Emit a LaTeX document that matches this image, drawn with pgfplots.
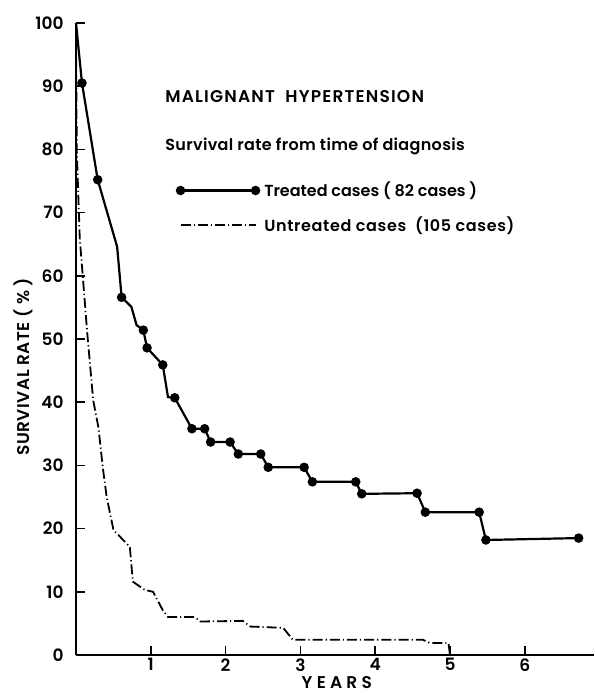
\documentclass[border=0pt]{standalone}
\usepackage{fontspec}
\setmainfont{Poppins}[BoldFont={Poppins SemiBold}]
\usepackage{pgfplots}
\pgfplotsset{compat=1.18}
\begin{document}
\begin{tikzpicture}
\path[use as bounding box] (-38pt,-19pt) rectangle (259.5pt,327.5pt);
\begin{axis}[
  at={(0pt,0pt)}, anchor=south west,
  x=37.4pt, y=3.16pt,
  xmin=0, xmax=6.92, ymin=0, ymax=100,
  axis x line*=bottom, axis y line*=left,
  axis line style={line width=1pt, black},
  xtick={1,2,3,4,5,6}, ytick={0,10,20,30,40,50,60,70,80,90,100},
  tick style={line width=0.8pt, black},
  major tick length=4.5pt,
  tick align=inside,
  /pgf/number format/assume math mode=true,
  tick label style={font=\fontsize{8.5}{10}\selectfont\bfseries},
  xticklabel style={anchor=north, inner sep=0pt, yshift=-1.5pt},
  yticklabel style={anchor=east, inner sep=0pt, xshift=-6pt},
  xlabel={\addfontfeature{LetterSpace=25}YEARS},
  ylabel={\addfontfeature{LetterSpace=3}SURVIVAL RATE ( \% )},
  label style={font=\fontsize{8.5}{10}\selectfont\bfseries},
  xlabel style={at={(axis description cs:0.504,-0.0443)}, anchor=center},
  ylabel style={at={(axis description cs:-0.1024,0.456)}, anchor=center, rotate=0},
  clip=false,
  legend style={at={(axis cs:1.33,75.6)}, anchor=north west, draw=none, fill=none,
    inner sep=0pt, row sep=4.5pt, font=\fontsize{8}{9.5}\selectfont\bfseries, cells={anchor=west}},
  legend cell align=left,
]
\addplot[black, line width=1.1pt, mark=*, mark size=1.8pt, mark options={solid},
  mark indices={2,3,5,8,9,10,12,13,14,15,16,17,18,19,20,21,22,23,24,25,26,27,28},
  legend image code/.code={\draw[black, line width=1.1pt] (0pt,0pt) -- (37.5pt,0pt);
    \fill[black] (0pt,0pt) circle (1.8pt); \fill[black] (37.5pt,0pt) circle (1.8pt);}]
coordinates {
(0,100) (0.08,90.5) (0.29,75.2) (0.55,64.6) (0.61,56.6) (0.74,55.1) (0.81,52.2)
(0.90,51.4) (0.95,48.6) (1.16,45.9) (1.23,40.8) (1.32,40.7) (1.55,35.8) (1.72,35.8)
(1.80,33.7) (2.06,33.7) (2.17,31.8) (2.47,31.8) (2.57,29.7) (3.05,29.7) (3.16,27.4)
(3.74,27.4) (3.82,25.5) (4.56,25.6) (4.67,22.6) (5.39,22.6) (5.48,18.2) (6.72,18.5)
};
\addlegendentry{Treated cases\ ( 82 cases )}
\addplot[black, line width=0.9pt, mark=none,
  dash pattern=on 5pt off 1.5pt on 0.6pt off 1.5pt,
  legend image code/.code={\draw[black, line width=0.9pt, dash pattern=on 5pt off 1.5pt on 0.6pt off 1.5pt] (0pt,0pt) -- (37.5pt,0pt);}]
coordinates {
(0,100) (0.01,80) (0.05,66) (0.15,51) (0.23,40.3) (0.30,36) (0.36,29.5) (0.41,25)
(0.48,21) (0.50,19.8) (0.72,17.1) (0.76,11.6) (0.92,10.3) (1.03,10) (1.16,7.1)
(1.23,6.0) (1.59,6.0) (1.66,5.3) (2.23,5.4) (2.33,4.5) (2.77,4.3) (2.90,2.4)
(4.64,2.4) (4.73,1.9) (4.98,1.9) (5.0,0)
};
\addlegendentry{{\addfontfeature{LetterSpace=4}Untreated cases\ \ (105 cases)}}
\node[anchor=west, inner sep=0pt, font=\fontsize{8.5}{10}\selectfont\bfseries] at (axis cs:1.19,88.3) {\addfontfeature{LetterSpace=7}MALIGNANT\ \ HYPERTENSION};
\node[anchor=west, inner sep=0pt, font=\fontsize{8}{9.5}\selectfont\bfseries] at (axis cs:1.19,80.5) {\addfontfeature{LetterSpace=2}Survival rate\ from time\ of diagnosis};
\end{axis}
\end{tikzpicture}
\end{document}
